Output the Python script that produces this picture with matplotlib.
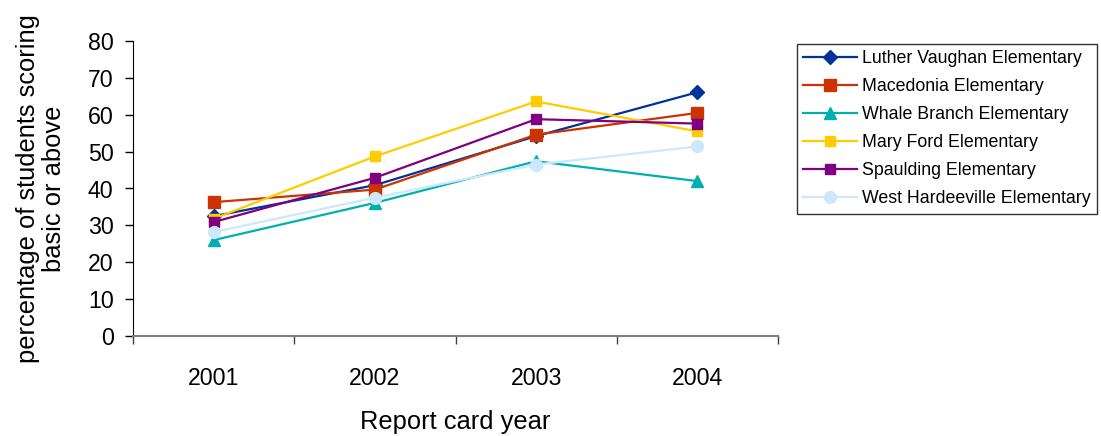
import matplotlib
matplotlib.use('Agg')
from matplotlib import pyplot as plt
from matplotlib.ticker import FixedLocator

years = ['2001', '2002', '2003', '2004']
schools = ['Luther Vaughan Elementary', 'Macedonia Elementary', 'Whale Branch Elementary',
           'Mary Ford Elementary', 'Spaulding Elementary', 'West Hardeeville Elementary']

luther_vaughan = [32.5, 40.9, 54.2, 66.1]
macedonia = [36.3, 39.7, 54.6, 60.5]
whale_branch = [26.0, 36.1, 47.4, 42.0]
mary_ford = [31.8, 48.7, 63.6, 55.5]
spaulding = [30.9, 42.9, 58.8, 57.6]
west_hardeeville = [28.2, 37.5, 46.5, 51.4]

series = [luther_vaughan, macedonia, whale_branch, mary_ford, spaulding, west_hardeeville]
colors = ['#003399', '#cc3300', '#00b0b0', '#ffcc00', '#800080', '#cce8fa']
markers = ['D', 's', '^', 's', 's', 'o']
sizes = [7, 8, 8.5, 7, 7, 8.5]

plt.rcParams['font.family'] = ['Liberation Sans', 'DejaVu Sans']

fig = plt.figure(figsize=(11.01, 4.36), dpi=100)
ax = fig.add_axes([133 / 1101, 100 / 436, 645 / 1101, 295 / 436])

x = list(range(1, len(years) + 1))
for vals, name, c, m, s in zip(series, schools, colors, markers, sizes):
    ax.plot(x, vals, color=c, marker=m, markersize=s, linewidth=1.6, label=name,
            markeredgecolor=c)

ax.set_xlim(0.5, 4.5)
ax.set_ylim(0, 80)
ax.set_yticks(range(0, 81, 10))
ax.set_xticks(x)
ax.set_xticklabels(years)
ax.xaxis.set_minor_locator(FixedLocator([0.5, 1.5, 2.5, 3.5, 4.5]))

ax.tick_params(axis='x', which='major', length=0, pad=22, labelsize=16.7)
ax.tick_params(axis='x', which='minor', length=6, width=1, color='#404040', direction='out')
ax.tick_params(axis='y', length=6, width=1, pad=8, labelsize=16.7, direction='out')

for side in ['top', 'right']:
    ax.spines[side].set_visible(False)
ax.spines['bottom'].set_color('#808080')
ax.spines['bottom'].set_linewidth(1.5)
ax.spines['left'].set_color('black')

ax.set_ylabel('percentage of students scoring\nbasic or above', fontsize=18.4,
              labelpad=16, linespacing=1.1)
ax.set_xlabel('Report card year', fontsize=18.4, labelpad=15)

leg = ax.legend(loc='upper left', bbox_to_anchor=(797 / 1101, 1 - 44 / 436),
                bbox_transform=fig.transFigure, fontsize=12.8, frameon=True, fancybox=False,
                edgecolor='black', handlelength=3.0, labelspacing=0.62, borderpad=0.35,
                handletextpad=0.3, borderaxespad=0)
leg.get_frame().set_linewidth(1)

fig.savefig('out.png', dpi=100)
